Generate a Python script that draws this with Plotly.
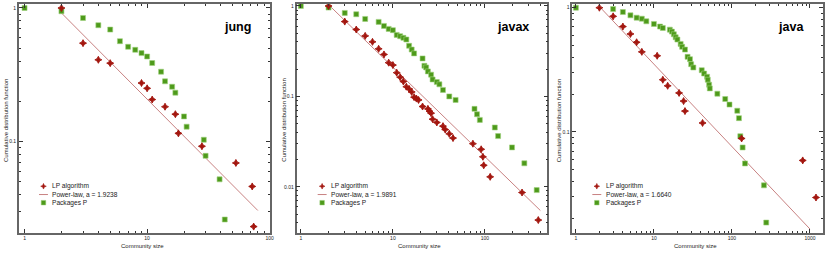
import plotly.graph_objects as go
import math

W, H = 830, 253

# ---------------- data ----------------
panel_names = ["jung", "javax", "java"]

jung_lp_x = [2, 3, 4, 5, 9, 10, 11, 14, 17, 18, 28, 53, 72, 74]
jung_lp_y = [1.0, 0.545, 0.409, 0.386, 0.274, 0.25, 0.206, 0.182, 0.16, 0.115, 0.092, 0.069, 0.046, 0.023]
jung_pk_x = [1, 2, 3, 4, 5, 6, 7, 8, 9, 10, 11, 13, 14, 16, 17, 20, 21, 29, 30, 39, 43]
jung_pk_y = [1.0, 0.945, 0.842, 0.743, 0.689, 0.564, 0.512, 0.486, 0.459, 0.433, 0.387, 0.333, 0.282,
             0.257, 0.232, 0.154, 0.129, 0.103, 0.078, 0.052, 0.026]

javax_lp_x = [2, 3, 4, 5, 6, 7, 8, 9, 10, 11, 12, 13, 14, 15, 16, 17, 18, 19, 21, 24, 25, 26, 27, 30,
              35, 37, 41, 45, 74, 91, 95, 97, 114, 253, 380]
javax_lp_y = [1.0, 0.672, 0.549, 0.467, 0.401, 0.336, 0.291, 0.236, 0.222, 0.183, 0.163, 0.146, 0.128,
              0.121, 0.112, 0.098, 0.0946, 0.0914, 0.0773, 0.0728, 0.0686, 0.0652, 0.056, 0.0515,
              0.0469, 0.043, 0.0386, 0.0346, 0.030, 0.026, 0.0215, 0.0173, 0.0129, 0.00865, 0.00429]
javax_pk_x = [1, 2, 3, 4, 5, 7, 8, 9, 10, 11, 12, 13, 14, 15, 16, 17, 21, 22, 23, 24, 26, 27, 30, 32,
              35, 41, 48, 77, 82, 88, 128, 139, 197, 268, 365]
javax_pk_y = [1.0, 0.959, 0.838, 0.81, 0.719, 0.667, 0.602, 0.558, 0.54, 0.479, 0.463, 0.444, 0.426,
              0.363, 0.33, 0.299, 0.263, 0.218, 0.209, 0.189, 0.174, 0.154, 0.144, 0.136, 0.118, 0.1,
              0.0914, 0.0728, 0.0635, 0.055, 0.0453, 0.0364, 0.0273, 0.0182, 0.0092]

java_lp_x = [2, 3, 4, 5, 6, 7, 11, 13, 15, 21, 24, 25, 42, 133, 807, 1194]
java_lp_y = [1.0, 0.852, 0.705, 0.615, 0.527, 0.441, 0.41, 0.263, 0.235, 0.206, 0.177, 0.147, 0.118,
             0.0885, 0.0589, 0.0296]
java_pk_x = [1, 3, 4, 5, 6, 7, 8, 10, 12, 13, 16, 17, 18, 19, 20, 22, 23, 25, 27, 29, 30, 32, 41, 44,
             48, 49, 51, 52, 65, 82, 93, 117, 123, 128, 137, 147, 257, 275]
java_pk_y = [1.0, 0.976, 0.923, 0.868, 0.831, 0.816, 0.777, 0.74, 0.705, 0.687, 0.666, 0.642, 0.611,
             0.578, 0.554, 0.511, 0.484, 0.46, 0.402, 0.385, 0.351, 0.33, 0.314, 0.295, 0.278, 0.263,
             0.24, 0.224, 0.203, 0.184, 0.166, 0.148, 0.129, 0.0923, 0.0749, 0.0557, 0.0371, 0.0186]

# power-law fits: alpha, prefactor, x-span of fitted line
fit_alpha = [1.9238, 1.9891, 1.6640]
fit_coef = [1.74, 2.05, 1.62]
fit_xmin = [2, 2, 2]
fit_xmax = [80, 400, 1000]

x_tickvals = [[1, 10, 100], [1, 10, 100], [1, 10, 100, 1000]]
x_ticktext = [["1", "10", "100"], ["1", "10", "100"], ["1", "10", "100", "1000"]]
y_tickvals = [[0.1, 1], [0.01, 0.1, 1], [0.1, 1]]
y_ticktext = [["0.1", "1"], ["0.01", "0.1", "1"], ["0.1", "1"]]

# ---------------- style / layout ----------------
RED = "#a3160f"
GREEN = "#4e9a1b"
LINE = "#c88282"
FRAME = "#666666"
FONT = "Liberation Sans, Arial, sans-serif"

# pixel geometry of each plotting frame (left, right, top, bottom)
frames = [(19, 271, 3, 232.5), (298, 550, 3, 232.5), (575, 827, 3, 232.5)]
x_ranges = [[-0.046, 2.0], [-0.0465, 2.678], [-0.047, 3.167]]
y_ranges = [[-1.683, 0.03], [-2.506, 0.022], [-1.811, 0.03]]
title_right = [254, 534, 810]
legend_mx = [43.7, 323.7, 599.7]

lp_x = [jung_lp_x, javax_lp_x, java_lp_x]
lp_y = [jung_lp_y, javax_lp_y, java_lp_y]
pk_x = [jung_pk_x, javax_pk_x, java_pk_x]
pk_y = [jung_pk_y, javax_pk_y, java_pk_y]


def minor_vals(lo, hi):
    vals = []
    for e in range(math.floor(lo) - 1, math.ceil(hi) + 1):
        for m in range(2, 10):
            vals.append(m * 10 ** e)
    return vals


def px(x):
    return x / W


def py(y):
    return 1 - y / H


fig = go.Figure()
annotations = []
shapes = []

for i in range(3):
    sfx = "" if i == 0 else str(i + 1)
    xa, ya = "x" + sfx, "y" + sfx
    # fitted power-law line
    fx = [fit_xmin[i], fit_xmax[i]]
    fy = [fit_coef[i] * v ** (1 - fit_alpha[i]) for v in fx]
    fig.add_trace(go.Scatter(x=fx, y=fy, mode="lines", line=dict(color=LINE, width=1),
                             name="Power-law, a = %.4f" % fit_alpha[i], showlegend=False,
                             xaxis=xa, yaxis=ya))
    fig.add_trace(go.Scatter(x=pk_x[i], y=pk_y[i], mode="markers", name="Packages P", showlegend=False,
                             marker=dict(symbol="square", size=5, color=GREEN,
                                         line=dict(color="#9fd27e", width=0.6)),
                             xaxis=xa, yaxis=ya))
    fig.add_trace(go.Scatter(x=lp_x[i], y=lp_y[i], mode="markers", name="LP algorithm", showlegend=False,
                             marker=dict(symbol="star-diamond", size=5, color=RED,
                                         line=dict(color=RED, width=0.9)),
                             xaxis=xa, yaxis=ya))

    l, r, t, b = frames[i]
    axis_common = dict(type="log", showgrid=False, zeroline=False, showline=True, linecolor=FRAME,
                       linewidth=1.6, mirror="allticks", ticks="inside", ticklen=4, tickwidth=0.8,
                       tickcolor="#333333", tickfont=dict(size=5, family=FONT, color="#222222"))
    fig.layout["xaxis" + sfx] = dict(axis_common, domain=[px(l), px(r)], anchor=ya, range=x_ranges[i],
                                     tickmode="array", tickvals=x_tickvals[i], ticktext=x_ticktext[i],
                                     minor=dict(tickmode="array", tickvals=minor_vals(*x_ranges[i]),
                                                ticks="inside", ticklen=2, tickwidth=0.6,
                                                tickcolor="#333333", showgrid=False))
    fig.layout["yaxis" + sfx] = dict(axis_common, domain=[py(b), py(t)], anchor=xa, range=y_ranges[i],
                                     tickmode="array", tickvals=y_tickvals[i], ticktext=y_ticktext[i],
                                     minor=dict(tickmode="array", tickvals=minor_vals(*y_ranges[i]),
                                                ticks="inside", ticklen=2, tickwidth=0.6,
                                                tickcolor="#333333", showgrid=False))

    # axis titles
    annotations.append(dict(text="Community size", xref="paper", yref="paper", x=px((l + r) / 2 - 2),
                            y=py(246), xanchor="center", yanchor="middle", showarrow=False,
                            font=dict(size=6, family=FONT, color="#222222")))
    annotations.append(dict(text="Cumulative distribution function", xref="paper", yref="paper",
                            x=px(l - 13.5), y=py(120), xanchor="center", yanchor="middle",
                            textangle=-90, showarrow=False,
                            font=dict(size=6, family=FONT, color="#222222")))
    # panel title
    annotations.append(dict(text="<b>%s</b>" % panel_names[i], xref="paper", yref="paper",
                            x=px(title_right[i]), y=py(26), xanchor="right", yanchor="middle",
                            showarrow=False, font=dict(size=12.5, family=FONT, color="#000000")))

    # legend (compact, drawn like the original)
    mx = legend_mx[i]
    rows = [186, 194.3, 202.5]
    labels = ["LP algorithm", "Power-law, a = %.4f" % fit_alpha[i], "Packages P"]
    for ry, lab in zip(rows, labels):
        annotations.append(dict(text=lab, xref="paper", yref="paper", x=px(mx + 7), y=py(ry),
                                xanchor="left", yanchor="middle", showarrow=False,
                                font=dict(size=6.6, family=FONT, color="#222222")))
    # LP marker: 4-point star
    cx, cy, R, rr = mx, rows[0], 2.8, 1.2
    pts = []
    for k in range(8):
        ang = math.pi / 2 + k * math.pi / 4
        rad = R if k % 2 == 0 else rr
        pts.append((cx + rad * math.cos(ang), cy - rad * math.sin(ang)))
    path = "M " + " L ".join("%.5f,%.5f" % (px(a), py(c)) for a, c in pts) + " Z"
    shapes.append(dict(type="path", xref="paper", yref="paper", path=path, fillcolor=RED,
                       line=dict(color=RED, width=0.6)))
    # power-law line sample
    shapes.append(dict(type="line", xref="paper", yref="paper", x0=px(mx - 4.5), x1=px(mx + 4.5),
                       y0=py(rows[1]), y1=py(rows[1]), line=dict(color=LINE, width=1)))
    # packages marker
    shapes.append(dict(type="rect", xref="paper", yref="paper", x0=px(mx - 2.3), x1=px(mx + 2.3),
                       y0=py(rows[2] - 2.3), y1=py(rows[2] + 2.3), fillcolor=GREEN,
                       line=dict(color="#9fd27e", width=0.5)))

fig.update_layout(width=W, height=H, margin=dict(l=0, r=0, t=0, b=0), showlegend=False,
                  paper_bgcolor="white", plot_bgcolor="white", font=dict(family=FONT),
                  annotations=annotations, shapes=shapes)

fig.write_html("out.html", config={"displayModeBar": False},
               post_script="document.body.style.margin='0';document.body.style.overflow='hidden';")
